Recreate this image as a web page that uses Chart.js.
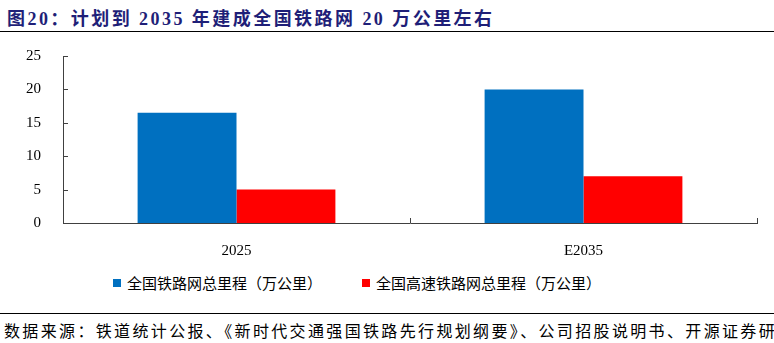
<!DOCTYPE html>
<html lang="zh">
<head>
<meta charset="UTF-8">
<title>图20</title>
<script src="https://cdn.jsdelivr.net/npm/chart.js"></script>
<style>
    body {
        margin: 0;
        width: 774px;
        height: 343px;
        background: #fff;
        position: relative;
        overflow: hidden;
        font-family: "Liberation Serif", "Noto Sans CJK SC", serif;
    }
    #title {
        position: absolute;
        left: 7px;
        top: 4px;
        font-size: 18px;
        font-weight: bold;
        color: #1F1F78;
        white-space: nowrap;
        letter-spacing: 2.45px;
    }
    .rule {
        position: absolute;
        left: 0;
        width: 774px;
        height: 1px;
        background: #000;
    }
    #chart-box {
        position: absolute;
        left: 0;
        top: 33px;
        width: 774px;
        height: 232px;
    }
    #legend {
        position: absolute;
        left: 113px;
        top: 272px;
        display: flex;
        font-size: 15px;
        color: #000;
        white-space: nowrap;
    }
    #legend .item {
        display: flex;
        align-items: center;
        margin-right: 40px;
    }
    #legend .box {
        width: 8px;
        height: 8px;
        margin-right: 6px;
    }
    #source {
        position: absolute;
        left: 4px;
        top: 318px;
        font-size: 16px;
        letter-spacing: 2.35px;
        color: #000;
        white-space: nowrap;
    }
</style>
</head>
<body>
<div id="title">图20：计划到 2035 年建成全国铁路网 20 万公里左右</div>
<div class="rule" style="top:31px"></div>
<div id="chart-box"><canvas id="railChart"></canvas></div>
<div id="legend"></div>
<div class="rule" style="top:313px"></div>
<div id="source">数据来源：铁道统计公报、《新时代交通强国铁路先行规划纲要》、公司招股说明书、开源证券研究所</div>

<script>
    const categories = ['2025', 'E2035'];
    const seriesNames = ['全国铁路网总里程（万公里）', '全国高速铁路网总里程（万公里）'];
    const totalMileage = [16.5, 20];
    const highSpeedMileage = [5, 7];
    const seriesColors = ['#0070C0', '#FF0000'];
    const yTicks = [0, 5, 10, 15, 20, 25];

    // short ticks pointing into the plot, like the original
    const innerTicks = {
        id: 'innerTicks',
        afterDraw(chart) {
            const ctx = chart.ctx;
            const x = chart.scales.x;
            const y = chart.scales.y;
            const area = chart.chartArea;
            ctx.save();
            ctx.strokeStyle = '#404040';
            ctx.lineWidth = 1;
            ctx.beginPath();
            yTicks.forEach(v => {
                const py = Math.round(y.getPixelForValue(v)) + 0.5;
                ctx.moveTo(area.left, py);
                ctx.lineTo(area.left + 5, py);
            });
            const step = (area.right - area.left) / categories.length;
            for (let i = 0; i <= categories.length; i++) {
                const px = Math.round(x.getPixelForValue(i) - step / 2) + 0.5;
                ctx.moveTo(px, area.bottom);
                ctx.lineTo(px, area.bottom - 5);
            }
            ctx.stroke();
            ctx.restore();
        }
    };

    const legend = document.getElementById('legend');
    seriesNames.forEach((name, i) => {
        const item = document.createElement('div');
        item.className = 'item';
        item.innerHTML = '<span class="box" style="background:' + seriesColors[i] + '"></span><span>' + name + '</span>';
        legend.appendChild(item);
    });

    const ctx = document.getElementById('railChart').getContext('2d');
    new Chart(ctx, {
        type: 'bar',
        data: {
            labels: categories,
            datasets: [{
                label: seriesNames[0],
                data: totalMileage,
                backgroundColor: seriesColors[0],
                barPercentage: 1,
                categoryPercentage: 0.57
            }, {
                label: seriesNames[1],
                data: highSpeedMileage,
                backgroundColor: seriesColors[1],
                barPercentage: 1,
                categoryPercentage: 0.57
            }]
        },
        options: {
            responsive: true,
            maintainAspectRatio: false,
            animation: false,
            layout: {
                padding: { top: 8, right: 17, left: 0, bottom: 0 }
            },
            plugins: {
                legend: { display: false },
                tooltip: { enabled: false }
            },
            scales: {
                x: {
                    grid: { display: false },
                    border: { display: true, color: '#404040', width: 1 },
                    ticks: {
                        color: '#000',
                        padding: 11,
                        font: { family: '"Liberation Serif", serif', size: 15 }
                    },
                    afterFit(scale) { scale.height = 42; }
                },
                y: {
                    min: 0,
                    max: 25,
                    grid: { display: false },
                    border: { display: true, color: '#404040', width: 1 },
                    ticks: {
                        stepSize: 5,
                        color: '#000',
                        padding: 14,
                        font: { family: '"Liberation Serif", serif', size: 15 }
                    },
                    afterFit(scale) { scale.width = 63; }
                }
            }
        },
        plugins: [innerTicks]
    });
</script>
</body>
</html>
